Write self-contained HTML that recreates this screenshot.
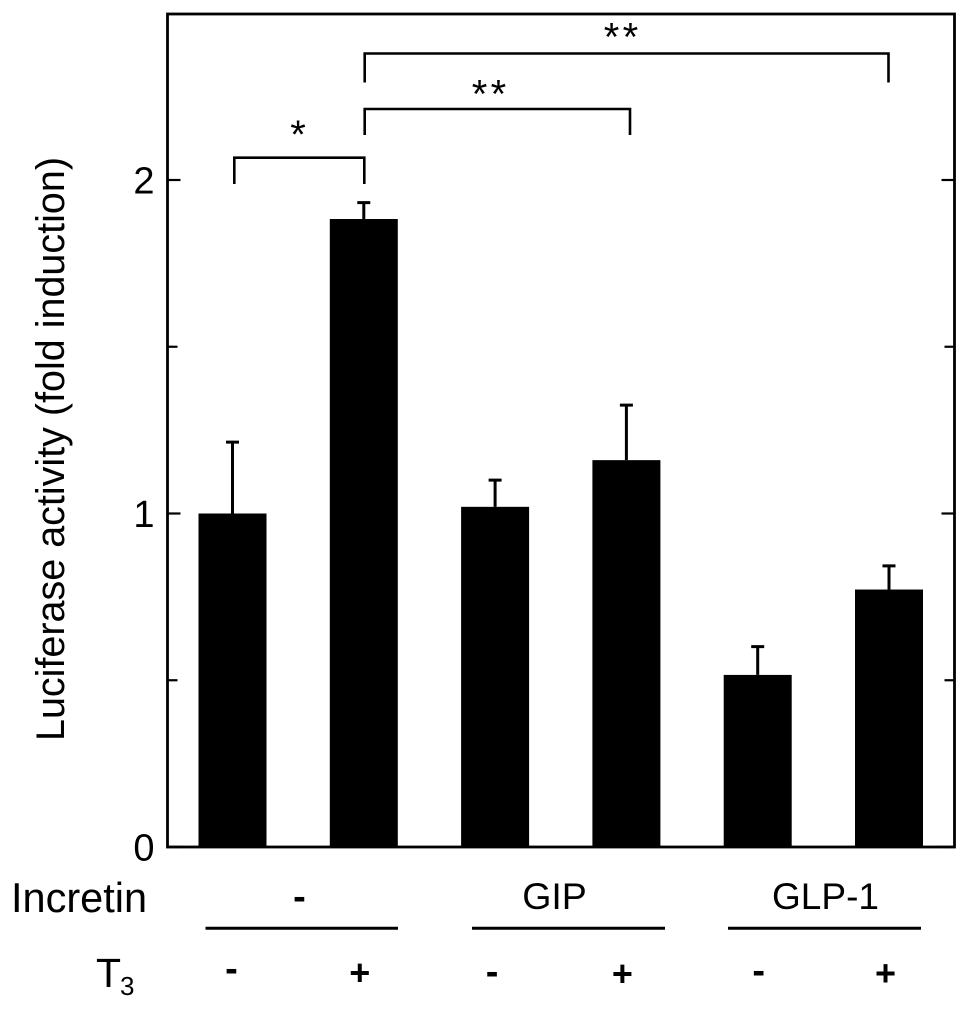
<!DOCTYPE html>
<html>
<head>
<meta charset="utf-8">
<style>
html,body{margin:0;padding:0;background:#fff;}
svg{display:block;}
text{font-family:"Liberation Sans",sans-serif;fill:#000;}
</style>
</head>
<body>
<svg id="chart" width="969" height="1009" viewBox="0 0 969 1009" xmlns="http://www.w3.org/2000/svg"></svg>
<script>
const categories = ["none-minus","none-plus","gip-minus","gip-plus","glp1-minus","glp1-plus"];
const t3Labels = ["-","+","-","+","-","+"];
const values = [1.0,1.883,1.02,1.16,0.516,0.772];
const errors = [0.214,0.049,0.08,0.165,0.085,0.071];
const majorTicks = [0,1,2];
const minorTicks = [0.5,1.5];

const svg = document.getElementById('chart');
const NS = 'http://www.w3.org/2000/svg';
const plot = {left:167.5,right:954.5,top:14,bottom:847};
const y = v => plot.bottom - v*333.5;
const x = i => 232.5 + i*131.3;
const barW = 68;
const capW = 13;

function add(tag, attrs, parent, text){
  const el = document.createElementNS(NS, tag);
  for (const k in attrs) el.setAttribute(k, attrs[k]);
  if (text !== undefined) el.textContent = text;
  (parent||svg).appendChild(el);
  return el;
}
function line(x1,y1,x2,y2,w,parent){
  return add('line',{x1:x1,y1:y1,x2:x2,y2:y2,stroke:'#000','stroke-width':w},parent);
}

const frame = add('rect',{x:plot.left,y:plot.top,width:plot.right-plot.left,height:plot.bottom-plot.top,fill:'none',stroke:'#000','stroke-width':2.8});



majorTicks.forEach(t => {
  const tick = add('g',{});
  
  
  line(plot.left,y(t),plot.left+13,y(t),2.2,tick);
  line(plot.right-13,y(t),plot.right,y(t),2.2,tick);
  const lab = add('text',{x:154.5,y:y(t)+13.5,'text-anchor':'end','font-size':38},svg,String(t));
  
  
});
minorTicks.forEach(t => {
  const tick = add('g',{});
  
  
  line(plot.left,y(t),plot.left+10,y(t),2.2,tick);
  line(plot.right-10,y(t),plot.right,y(t),2.2,tick);
});

categories.forEach((c,i) => {
  const top = y(values[i]+errors[i]);
  const err = add('path',{d:`M${x(i)} ${y(values[i])}V${top}M${x(i)-capW/2} ${top}h${capW}`,fill:'none',stroke:'#000','stroke-width':3});
  
  
  const bar = add('rect',{x:x(i)-barW/2,y:y(values[i]),width:barW,height:y(0)-y(values[i]),fill:'#000'});
  
  
});

function drawT3Labels(){
  const dx = [-1,-4,-3,-4,1,-3.5];
  const base = [981,985,984,986,983,985.5];
  t3Labels.forEach((s,i) => {
    const lab = add('text',{x:x(i)+dx[i],y:base[i],'text-anchor':'middle','font-size':s==='+'?36:38,'font-weight':'bold'},svg,s);
    
    
  });
}
drawT3Labels();

function drawBrackets(){
  const spec = [
    {d:'M234.3 184V157.7H364.3V184',sx:299.7,sy:148,s:'*'},
    {d:'M364.7 135V109H630V135',sx:490.7,sy:107.5,s:'**'},
    {d:'M364.7 82.5V53.5H888.5V82.5',sx:622.7,sy:50.5,s:'**'}
  ];
  spec.forEach(b => {
    const p = add('path',{d:b.d,fill:'none',stroke:'#000','stroke-width':2.6});
    
    
    const t = add('text',{x:b.sx,y:b.sy,'text-anchor':'middle','font-size':40,'letter-spacing':3.4},svg,b.s);
    
    
  });
}
drawBrackets();

function drawUnderlines(){
  [[205.5,398],[472,665],[728,921]].forEach(g => {
    const l = line(g[0],928.3,g[1],928.3,3);
    
    
  });
}
drawUnderlines();

function drawStaticLabels(){
  const title = add('text',{transform:'translate(64,449) rotate(-90)','text-anchor':'middle','font-size':39.5},svg,'Luciferase activity (fold induction)');
  
  

  const inc = add('text',{x:11,y:912,'font-size':41.5},svg,'Incretin');
  
  

  const g0 = add('text',{x:299.5,y:909,'text-anchor':'middle','font-size':38,'font-weight':'bold'},svg,'-');
  
  

  const g1 = add('text',{x:554.5,y:909,'text-anchor':'middle','font-size':37.5},svg,'GIP');
  
  

  const g2 = add('text',{x:825.5,y:909,'text-anchor':'middle','font-size':37},svg,'GLP-1');
  
  

  const t = add('text',{x:96,y:987,'font-size':41},svg,'T');
  
  

  const sub = add('text',{x:120,y:995,'font-size':26},svg,'3');
  
  
}
drawStaticLabels();
</script>
</body>
</html>
